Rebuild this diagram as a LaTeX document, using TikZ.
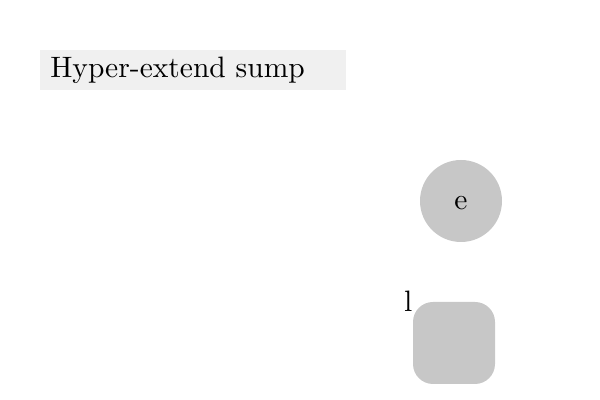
\documentclass[tikz,border=0pt]{standalone}
\usepackage{tikz}
\usetikzlibrary{positioning}
\usepackage{xcolor}
\usepackage{graphicx}

% scaled-up 10pt text
\newcommand{\bigtext}[1]{\scalebox{2.1}{#1}}

\begin{document}
\begin{tikzpicture}[
  font=\normalsize,
  banner/.style={fill=black!6, minimum height=1cm, text width=7.15cm,
    inner xsep=0.25cm, inner ysep=0pt, align=left},
  disc/.style={circle, fill=black!22, minimum size=2.05cm, inner sep=0pt,
    text height=13pt},
  tile/.style={rectangle, rounded corners=0.5cm, fill=black!22,
    minimum size=2.05cm, inner sep=0pt},
]
  % Frame
  \useasboundingbox (0,0) rectangle (15,10);

  % Title banner
  \node[banner, anchor=north west] (title) at (1.0,8.75) {\bigtext{Hyper-extend sump}};

  % Shapes
  \node[disc] (e) at (11.525,4.975) {\bigtext{e}};
  \node[tile, label={[anchor=east, inner sep=0pt]north west:\bigtext{l}}] (l) at (11.35,1.425) {};
\end{tikzpicture}
\end{document}
